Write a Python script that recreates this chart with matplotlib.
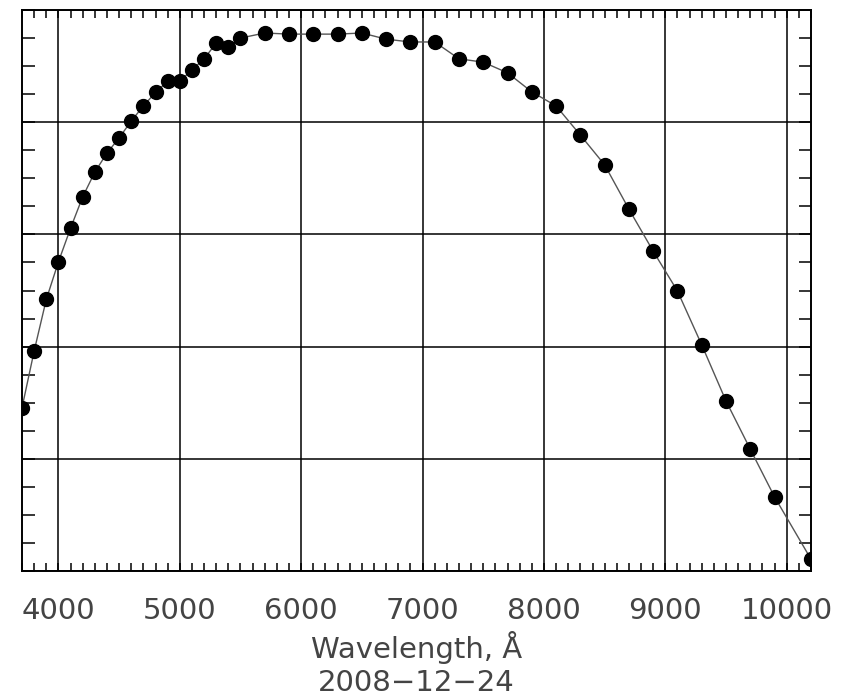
import matplotlib
matplotlib.use("Agg")
import matplotlib.pyplot as plt
from matplotlib.ticker import MultipleLocator

# Wavelength (Angstrom) and relative response (arbitrary units, y labels not shown)
wavelength = [3700, 3800, 3900, 4000, 4100, 4200, 4300, 4400, 4500, 4600,
              4700, 4800, 4900, 5000, 5100, 5200, 5300, 5400, 5500, 5700,
              5900, 6100, 6300, 6500, 6700, 6900, 7100, 7300, 7500, 7700,
              7900, 8100, 8300, 8500, 8700, 8900, 9100, 9300, 9500, 9700,
              9900, 10200]
response = [0.291, 0.392, 0.484, 0.551, 0.611, 0.667, 0.711, 0.745, 0.772, 0.802,
            0.829, 0.853, 0.873, 0.873, 0.893, 0.913, 0.941, 0.934, 0.950, 0.959,
            0.957, 0.957, 0.957, 0.959, 0.948, 0.943, 0.943, 0.913, 0.907, 0.888,
            0.854, 0.829, 0.777, 0.724, 0.645, 0.570, 0.499, 0.403, 0.303, 0.217,
            0.132, 0.021]
xticks = [4000, 5000, 6000, 7000, 8000, 9000, 10000]

fig = plt.figure(figsize=(8.51, 6.97), dpi=100)
ax = fig.add_axes([22 / 851, 1 - 571 / 697, 789 / 851, 561 / 697])

ax.plot(wavelength, response, color="#555555", linewidth=1.0, zorder=3)
ax.plot(wavelength, response, "o", color="black", markersize=10, zorder=4)

ax.set_xlim(3700, 10200)
ax.set_ylim(0, 1)
ax.set_xticks(xticks)
ax.xaxis.set_minor_locator(MultipleLocator(100))
ax.yaxis.set_major_locator(MultipleLocator(0.2))
ax.yaxis.set_minor_locator(MultipleLocator(0.05))

ax.grid(True, which="major", color="black", linewidth=1.1)
for s in ax.spines.values():
    s.set_linewidth(1.4)

ax.tick_params(axis="both", which="both", direction="in", top=True, right=True,
               width=1.1, color="black")
ax.tick_params(axis="x", which="both", length=6)
ax.tick_params(axis="y", which="both", length=9)
ax.tick_params(axis="y", labelleft=False)
ax.tick_params(axis="x", pad=19, labelsize=21, labelcolor="#444444")

ax.set_xlabel("Wavelength, Å\n2008\u221212\u221224", fontsize=21, color="#444444",
              labelpad=4, linespacing=1.25)

plt.savefig("out.png", dpi=100)
